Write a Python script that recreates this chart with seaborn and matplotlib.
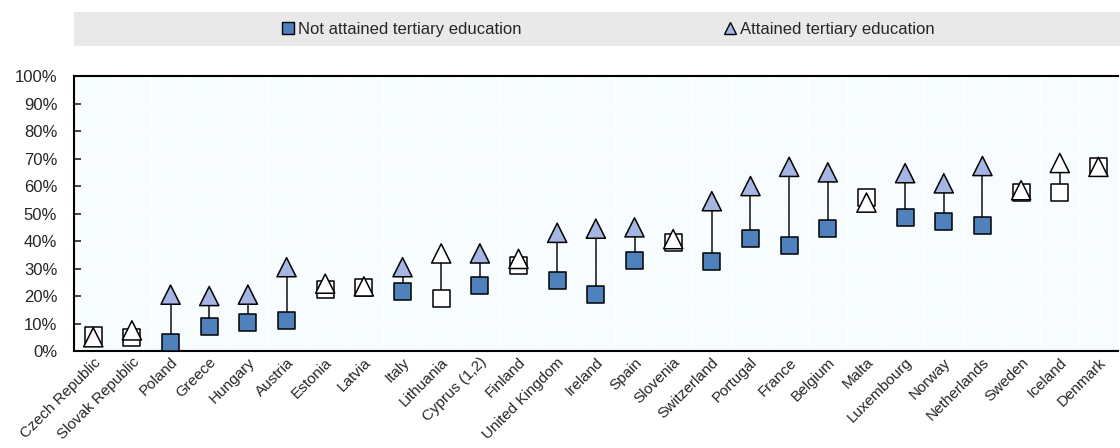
import pandas as pd
import seaborn as sns
import matplotlib.pyplot as plt
from matplotlib.ticker import PercentFormatter, FixedLocator
from matplotlib.lines import Line2D
import numpy as np

countries = ["Czech Republic", "Slovak Republic", "Poland", "Greece", "Hungary", "Austria",
             "Estonia", "Latvia", "Italy", "Lithuania", "Cyprus (1,2)", "Finland",
             "United Kingdom", "Ireland", "Spain", "Slovenia", "Switzerland", "Portugal",
             "France", "Belgium", "Malta", "Luxembourg", "Norway", "Netherlands",
             "Sweden", "Iceland", "Denmark"]
not_attained = [5.8, 5.0, 3.0, 9.0, 10.5, 11.0, 22.5, 23.0, 21.5, 19.0, 24.0, 31.0,
                25.5, 20.4, 33.0, 39.5, 32.4, 41.0, 38.5, 44.7, 56.0, 48.7, 47.0, 45.8,
                57.8, 57.5, 67.0]
attained = [5.0, 7.5, 20.5, 20.0, 20.5, 30.5, 24.5, 23.5, 30.5, 35.5, 35.5, 33.5,
            43.0, 44.5, 45.0, 40.7, 54.5, 60.0, 67.0, 65.0, 54.0, 64.7, 61.0, 67.3,
            58.5, 68.4, 67.0]
significant = [False, False, True, True, True, True, False, False, True, False, True, False,
               True, True, True, False, True, True, True, True, False, True, True, True,
               False, False, False]

df = pd.DataFrame({"country": countries, "not_attained": not_attained,
                   "attained": attained, "sig": significant})

sns.set_style("white")
plt.rcParams["font.family"] = ["Liberation Sans", "DejaVu Sans"]

fig = plt.figure(figsize=(11.2, 4.48), dpi=100)
ax = fig.add_axes([0.066, 0.2165, 0.932, 0.6135])
ax.set_facecolor("#F7FCFF")

# faint white grid
for yv in range(10, 100, 10):
    ax.axhline(yv, color="white", lw=1, zorder=0)
for xv in np.arange(0.5, len(countries) - 1, 1):
    ax.axvline(xv, color="white", lw=1, zorder=0)

x = np.arange(len(countries))
ax.vlines(x, df["not_attained"], df["attained"], color="#222222", lw=1.2, zorder=2)

sns.scatterplot(data=df, x="country", y="not_attained", hue="sig",
                palette={True: "#4F81BD", False: "white"}, marker="s", s=150,
                edgecolor="black", linewidth=1.1, legend=False, zorder=3, ax=ax)
sns.scatterplot(data=df, x="country", y="attained", hue="sig",
                palette={True: "#A6B6E3", False: "white"}, marker="^", s=190,
                edgecolor="black", linewidth=1.1, legend=False, zorder=4, ax=ax)

ax.set_xlim(-0.5, len(countries) - 0.5)
ax.set_ylim(0, 100)
ax.set_yticks(range(0, 101, 10))
ax.yaxis.set_major_formatter(PercentFormatter(decimals=0))
ax.set_xticks(x)
ax.set_xticklabels(countries, rotation=45, ha="right", rotation_mode="anchor")
ax.xaxis.set_minor_locator(FixedLocator(np.arange(0.5, len(countries) - 1, 1)))
ax.tick_params(axis="x", which="major", length=0, labelsize=11, pad=3)
ax.tick_params(axis="x", which="minor", direction="in", length=5, width=1.2, color="black")
ax.tick_params(axis="y", direction="in", length=5, width=1.2, labelsize=12, pad=12, left=True)
ax.set_xlabel("")
ax.set_ylabel("")

for side in ["left", "top", "bottom"]:
    ax.spines[side].set_color("black")
    ax.spines[side].set_linewidth(1.5)
ax.spines["right"].set_visible(False)

# legend band on top
band = fig.add_axes([0.066, 0.897, 0.934, 0.076])
band.set_facecolor("#E9E9E9")
band.set_xticks([])
band.set_yticks([])
for s in band.spines.values():
    s.set_visible(False)
handles = [
    Line2D([], [], marker="s", color="none", markerfacecolor="#4F81BD",
           markeredgecolor="black", markersize=8, label="Not attained tertiary education"),
    Line2D([], [], marker="^", color="none", markerfacecolor="#A6B6E3",
           markeredgecolor="black", markersize=8, label="Attained tertiary education"),
]
band.legend(handles=handles, loc="center", bbox_to_anchor=(0.51, 0.5), ncol=2,
            frameon=False, fontsize=12, handletextpad=0.1, columnspacing=12,
            handlelength=1)

fig.savefig("out.png", dpi=100)
